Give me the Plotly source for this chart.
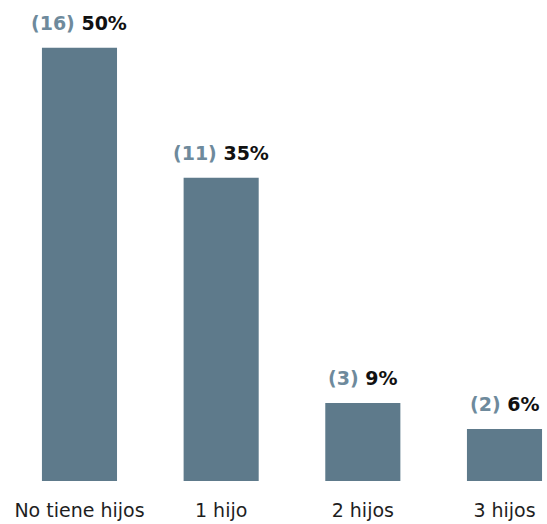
import plotly.graph_objects as go

categories = ["No tiene hijos", "1 hijo", "2 hijos", "3 hijos"]
counts = [16, 11, 3, 2]
percents = [50, 35, 9, 6]

bar_color = "#5e7a8b"
count_color = "#6e8a9c"

fig = go.Figure()
fig.add_trace(go.Bar(
    x=categories,
    y=percents,
    marker=dict(color=bar_color, line=dict(width=0)),
    hoverinfo="skip",
))

for c, n, p in zip(categories, counts, percents):
    fig.add_annotation(
        x=c, y=p, xref="x", yref="y",
        text=f"<b><span style='color:{count_color}'>({n})</span> {p}%</b>",
        showarrow=False, yanchor="bottom", yshift=12,
        font=dict(family="DejaVu Sans", size=19, color="#111111"),
    )

fig.update_layout(
    width=547, height=524,
    margin=dict(l=0, r=0, t=0, b=43),
    plot_bgcolor="white", paper_bgcolor="white",
    bargap=0.47,
    showlegend=False,
    xaxis=dict(
        range=[-0.561, 3.30],
        showgrid=False, zeroline=False, showline=False, ticks="",
        tickfont=dict(family="DejaVu Sans", size=19, color="#1e1e1e"),
        ticklabelstandoff=16,
        automargin=False,
    ),
    yaxis=dict(
        range=[0, 55.5],
        visible=False, showgrid=False, zeroline=False,
        automargin=False,
    ),
)

fig.write_html(
    "out.html",
    config={"displayModeBar": False},
    post_script="document.body.style.margin='0';",
)
